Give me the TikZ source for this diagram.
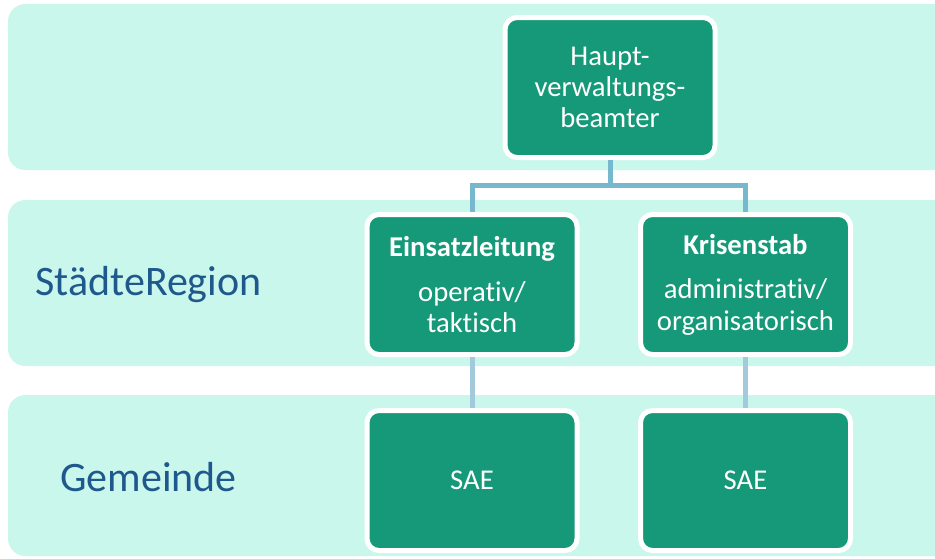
\documentclass[tikz,border=0pt]{standalone}
\usepackage{fontspec}
\setmainfont[Ligatures={NoCommon}]{Carlito}
\usepackage{xcolor}
\definecolor{band}{RGB}{201,247,236}
\definecolor{boxgreen}{RGB}{21,153,120}
\definecolor{labelblue}{RGB}{31,88,140}
\definecolor{linkdark}{RGB}{118,185,207}
\definecolor{linklight}{RGB}{163,202,219}
\tikzset{
	orgbox/.style={rectangle, rounded corners=9pt, fill=boxgreen, draw=white,
		line width=3.75pt, minimum width=157.5pt, minimum height=105pt,
		inner sep=0pt, align=center, text=white,
		font=\fontsize{21.5}{23.5}\selectfont},
	level/.style={anchor=base, text=labelblue, font=\fontsize{31.5}{36}\selectfont},
	toplink/.style={draw=linkdark, line width=3.75pt},
	sublink/.style={draw=linklight, line width=3.75pt}
}

\begin{document}
\begin{tikzpicture}[x=0.75pt, y=-0.75pt]
	\useasboundingbox (0,0) rectangle (935,558);
	\clip (0,0) rectangle (935,558);

	% bands
	\fill[band, rounded corners=13pt] (8,4) rectangle (990,170);
	\fill[band, rounded corners=13pt] (8,200) rectangle (990,366);
	\fill[band, rounded corners=13pt] (8,395) rectangle (990,556);

	\node[level] (region) at (148.5,295) {StädteRegion};
	\node[level] (gemeinde) at (148.5,491) {Gemeinde};

	% top
	\node[orgbox] (haupt) at (610,87.5) {Haupt-\\verwaltungs-\\beamter};

	% middle
	\node[orgbox] (einsatz) at (472,284.5) {\textbf{Einsatzleitung}\\[10pt]operativ/\\taktisch};
	\node[orgbox] (krise) at (745.5,284.5) {\textbf{Krisenstab}\\[10pt]administrativ/\\organisatorisch};

	% bottom
	\node[orgbox] (sae1) at (472,480.5) {SAE};
	\node[orgbox] (sae2) at (745.5,480.5) {SAE};

	% links
	\coordinate (split) at (610,185);
	\draw[toplink] (haupt.south) -- (split);
	\draw[toplink] (einsatz.north) |- (split) -| (krise.north);
	\draw[sublink] (einsatz.south) -- (sae1.north);
	\draw[sublink] (krise.south) -- (sae2.north);
\end{tikzpicture}
\end{document}
